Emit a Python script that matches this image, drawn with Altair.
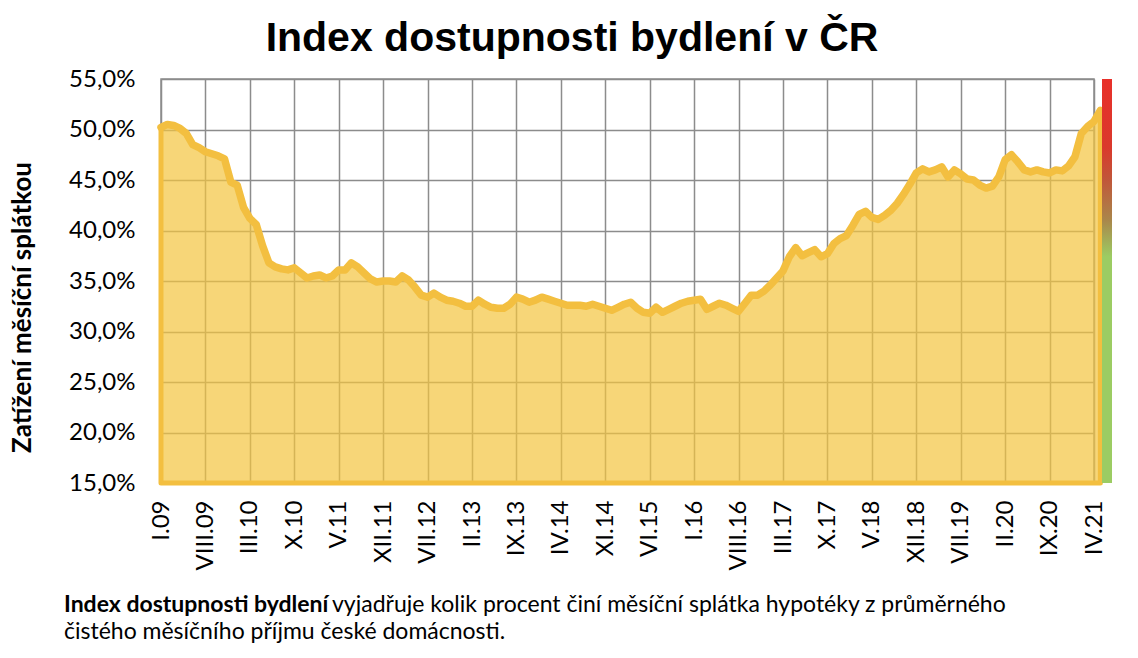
import altair as alt
import pandas as pd

TITLE = "Index dostupnosti bydlení  v ČR"
Y_TITLE = "Zatížení měsíční splátkou"
CAPTION_BOLD = "Index dostupnosti bydlení"
CAPTION_REST = "vyjadřuje kolik procent činí  měsíční splátka hypotéky z průměrného"
CAPTION_LINE2 = "čistého měsíčního příjmu české domácnosti."

X_TICK_LABELS = ["I.09", "VIII.09", "III.10", "X.10", "V.11", "XII.11", "VII.12",
                 "II.13", "IX.13", "IV.14", "XI.14", "VI.15", "I.16", "VIII.16",
                 "III.17", "X.17", "V.18", "XII.18", "VII.19", "II.20", "IX.20", "IV.21"]
TICK_STEP = 7  # months between labelled ticks
Y_TICKS = [15, 20, 25, 30, 35, 40, 45, 50, 55]

# monthly index values (%) starting January 2009
INDEX_VALUES = [
    50.2, 50.5, 50.4, 50.1, 49.6, 48.5, 48.2, 47.8, 47.6, 47.4,
    47.1, 44.8, 44.5, 42.3, 41.2, 40.6, 38.5, 36.8, 36.4, 36.2,
    36.1, 36.3, 35.8, 35.3, 35.5, 35.6, 35.3, 35.5, 36.1, 36.1,
    36.8, 36.4, 35.8, 35.2, 34.9, 35.0, 35.0, 34.9, 35.5, 35.1,
    34.4, 33.6, 33.4, 33.8, 33.4, 33.1, 33.0, 32.8, 32.5, 32.5,
    33.1, 32.7, 32.4, 32.3, 32.3, 32.7, 33.4, 33.2, 32.9, 33.1,
    33.4, 33.2, 33.0, 32.8, 32.6, 32.6, 32.6, 32.5, 32.7, 32.5,
    32.3, 32.1, 32.4, 32.7, 32.9, 32.3, 31.9, 31.8, 32.4, 31.9,
    32.2, 32.5, 32.8, 33.0, 33.1, 33.2, 32.2, 32.5, 32.8, 32.6,
    32.3, 32.0, 32.8, 33.6, 33.6, 34.0, 34.6, 35.3, 36.0, 37.4,
    38.3, 37.5, 37.8, 38.1, 37.4, 37.7, 38.7, 39.2, 39.5, 40.5,
    41.6, 41.9, 41.3, 41.1, 41.5, 42.0, 42.7, 43.6, 44.6, 45.7,
    46.1, 45.8, 46.0, 46.3, 45.3, 46.0, 45.6, 45.1, 45.0, 44.5,
    44.2, 44.4, 45.3, 47.0, 47.5, 46.8, 46.0, 45.8, 46.0, 45.8,
    45.7, 46.0, 45.9, 46.4, 47.3, 49.6, 50.3, 50.8, 51.9,
]

W, H = 933, 404
LINE_COLOR = "#F3BF40"
GRID = "#8C8C8C"
FONT = "Lato"

df = pd.DataFrame({"m": list(range(len(INDEX_VALUES))), "v": INDEX_VALUES})
x_max = (len(X_TICK_LABELS) - 1) * TICK_STEP
label_arr = "[" + ",".join("'" + s + "'" for s in X_TICK_LABELS) + "]"

x_enc = alt.X("m:Q", scale=alt.Scale(domain=[0, x_max], nice=False, zero=False),
              axis=alt.Axis(values=[i * TICK_STEP for i in range(len(X_TICK_LABELS))],
                            labelExpr=label_arr + "[round(datum.value/" + str(TICK_STEP) + ")]",
                            labelAngle=270, labelAlign="right", labelBaseline="middle",
                            labelFont=FONT, labelFontSize=24, labelColor="#000000",
                            labelPadding=17, labelFlush=False, labelOverlap=False,
                            ticks=False, domain=False, grid=True, gridColor=GRID,
                            gridWidth=1.5, title=None))
y_enc = alt.Y("v:Q", scale=alt.Scale(domain=[15, 55], nice=False, zero=False),
              axis=alt.Axis(values=Y_TICKS,
                            labelExpr="replace(format(datum.value, '.1f'), '.', ',') + '%'",
                            labelFont=FONT, labelFontSize=24, labelColor="#000000",
                            labelPadding=26, ticks=False, domain=False, grid=True,
                            gridColor=GRID, gridWidth=1.5, title=Y_TITLE,
                            titleFont=FONT, titleFontWeight="bold", titleFontSize=26,
                            titleColor="#000000", titleAngle=270, titleAlign="center",
                            titleBaseline="middle", titleX=-139, titleY=228))

base = alt.Chart(df)
area = base.mark_area(fill="#F4C43F", fillOpacity=0.7, stroke=LINE_COLOR,
                      strokeWidth=5, strokeJoin="round").encode(
    x=x_enc, y=y_enc, y2=alt.datum(15))
line = base.mark_line(color=LINE_COLOR, strokeWidth=7.5, strokeJoin="round",
                      strokeCap="round").encode(x="m:Q", y="v:Q")

gradient = alt.LinearGradient(
    gradient="linear",
    stops=[alt.GradientStop(color="#9CCC63", offset=0),
           alt.GradientStop(color="#9CCC63", offset=0.56),
           alt.GradientStop(color="#A9874B", offset=0.65),
           alt.GradientStop(color="#C0573A", offset=0.75),
           alt.GradientStop(color="#DA392C", offset=0.83),
           alt.GradientStop(color="#E8302A", offset=1)],
    x1=0, x2=0, y1=1, y2=0)
band = alt.Chart(pd.DataFrame({"lo": [Y_TICKS[0]], "hi": [Y_TICKS[-1]]})).mark_rect(
    color=gradient).encode(x=alt.value(W + 8), x2=alt.value(W + 18),
                           y="lo:Q", y2="hi:Q")

title = alt.Chart(pd.DataFrame({"t": [TITLE]})).mark_text(
    font="Liberation Sans", fontWeight="bold", fontSize=41, align="center",
    baseline="alphabetic", color="#000000").encode(
    text="t:N", x=alt.value(411), y=alt.value(-28))

cap_bold = alt.Chart(pd.DataFrame({"t": [CAPTION_BOLD]})).mark_text(
    font=FONT, fontWeight="bold", fontSize=23, align="left", baseline="alphabetic",
    color="#000000").encode(text="t:N", x=alt.value(-97), y=alt.value(533))
cap_rest = alt.Chart(pd.DataFrame({"t": [CAPTION_REST]})).mark_text(
    font=FONT, fontSize=23, align="left", baseline="alphabetic",
    color="#000000").encode(text="t:N", x=alt.value(171), y=alt.value(533))
cap_2 = alt.Chart(pd.DataFrame({"t": [CAPTION_LINE2]})).mark_text(
    font=FONT, fontSize=23, align="left", baseline="alphabetic",
    color="#000000").encode(text="t:N", x=alt.value(-97), y=alt.value(560))

chart = alt.layer(area, line, band, title, cap_bold, cap_rest, cap_2).properties(
    width=W, height=H,
    padding={"left": 161, "top": 79, "right": 1138 - 161 - W, "bottom": 658 - 79 - H},
    autosize=alt.AutoSizeParams(type="none"),
    background="#FFFFFF",
).configure_view(stroke=GRID, strokeWidth=1.5)

chart.save("out.html", embed_options={"renderer": "svg", "actions": False})
